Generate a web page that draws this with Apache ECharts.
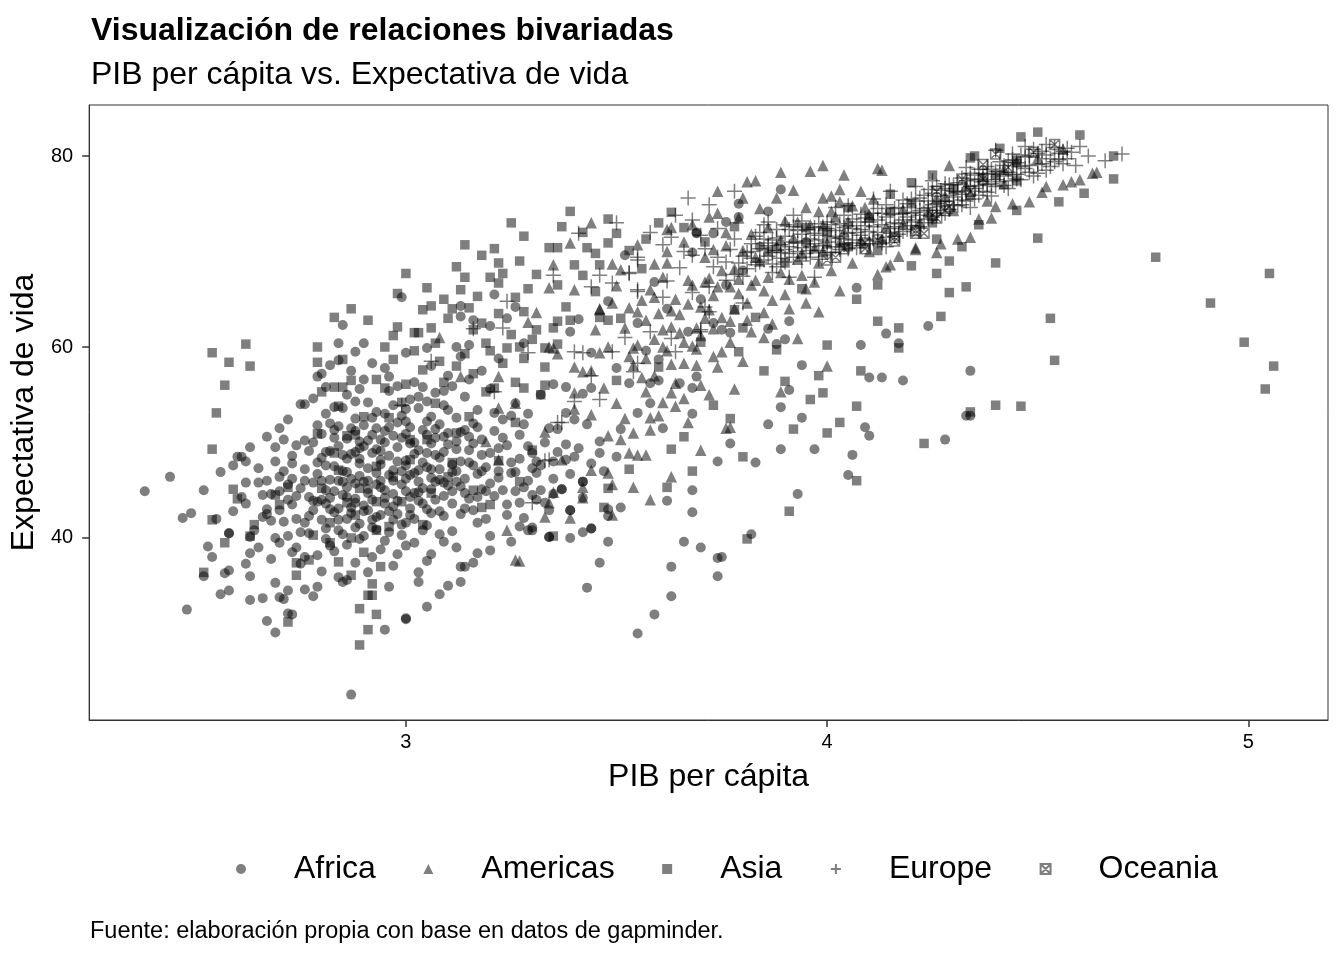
<!DOCTYPE html>
<html>
<head>
<meta charset="utf-8">
<script src="https://cdn.jsdelivr.net/npm/echarts@6/dist/echarts.min.js"></script>
<style>
html, body { margin: 0; padding: 0; background: #fff; }
#chart { width: 1344px; height: 960px; }
</style>
</head>
<body>
<div id="chart"></div>
<script>
// ejes: log10(PIB per cápita) vs expectativa de vida
var xTicks = [3, 4, 5];
var yTicks = [40, 60, 80];
var continents = ["Africa", "Americas", "Asia", "Europe", "Oceania"];

var africa = [
	[2.38,44.9],[2.44,46.4],[2.48,32.5],[2.52,45.0],[2.47,42.1],[2.49,42.6],[2.55,42.0],[2.53,39.1],[2.54,38.0],[2.52,36.0],
	[2.56,34.1],[2.58,34.5],[2.57,36.3],[2.58,36.6],[2.58,40.5],[2.59,42.8],[2.61,44.3],[2.62,43.6],[2.62,45.8],[2.61,48.5],
	[2.62,48.0],[2.63,49.5],[2.65,47.3],[2.63,40.1],[2.63,38.4],[2.62,37.3],[2.63,36.0],[2.63,33.5],[2.66,33.7],[2.67,31.3],
	[2.69,30.1],[2.69,40.0],[2.70,39.5],[2.69,35.3],[2.70,33.8],[2.71,33.6],[2.72,34.5],[2.72,32.1],[2.73,32.0],[2.67,46.0],
	[2.66,44.5],[2.67,43.0],[2.69,48.0],[2.69,49.5],[2.71,50.3],[2.72,52.4],[2.76,54.0],[2.78,54.6],[2.79,56.9],[2.82,58.1],
	[2.81,55.8],[2.84,60.4],[2.85,62.3],[2.90,60.4],[2.88,59.5],[2.99,65.2],[2.87,23.6],[2.95,30.4],[3.00,31.5],[2.73,38.5],
	[2.76,38.0],[2.75,37.3],[2.76,34.6],[2.78,33.9],[2.79,34.9],[2.84,35.9],[2.86,35.6],[2.85,35.4],[2.88,37.4],[2.91,36.4],
	[2.80,57.2],[2.84,58.6],[2.90,56.6],[2.95,57.8],[3.00,59.4],[3.02,56.3],[3.06,58.0],[3.10,57.0],[3.13,59.0],[3.18,57.5],
	[3.22,58.8],[3.05,59.9],[2.98,55.9],
	[2.75,54.0],[2.81,53.0],[2.86,55.0],[2.88,52.5],[2.91,54.2],[2.93,53.2],[2.96,55.4],[2.99,52.8],[3.01,54.5],[3.03,53.6],
	[3.05,52.2],[3.07,55.2],[3.09,53.9],[3.12,52.6],[3.14,54.8],[3.17,53.4],[3.20,55.6],[3.23,52.4],[3.26,54.1],[3.29,53.0],
	[3.32,55.0],[2.97,53.9],[3.04,55.8],
	[2.60,48.5],[2.67,50.6],[2.70,51.5],[2.73,48.6],[2.76,50.2],[2.79,51.8],[2.81,49.0],[2.83,50.5],[2.86,48.3],[2.88,51.2],
	[2.90,49.6],[2.92,50.8],[2.94,48.2],[2.96,51.6],[2.98,49.5],[3.00,50.9],[3.02,48.8],[3.04,51.3],[3.06,49.9],[3.08,48.4],
	[3.10,51.0],[3.12,49.3],[3.15,50.6],[3.18,48.7],[3.21,51.2],[3.24,49.7],[3.27,50.8],[3.30,48.9],[3.34,51.5],[3.38,49.8],
	[2.89,50.1],[2.95,50.0],[3.01,49.9],[2.84,51.7],[3.07,50.5],
	[2.56,46.9],[2.59,47.6],[2.65,45.8],[2.68,44.6],[2.70,46.4],[2.73,47.8],[2.75,45.2],[2.77,44.3],[2.79,46.7],[2.81,45.0],
	[2.83,47.5],[2.85,44.5],[2.87,46.2],[2.89,47.8],[2.91,45.1],[2.93,46.8],[2.95,44.2],[2.97,47.1],[2.99,45.6],[3.01,46.6],
	[3.03,44.8],[3.05,47.4],[3.07,45.9],[3.09,44.4],[3.11,46.9],[3.13,45.4],[3.16,47.6],[3.19,44.9],[3.22,46.3],[3.25,47.9],
	[3.28,45.3],[3.31,46.8],[3.35,44.6],[3.37,45.1],[2.88,45.7],[2.94,46.0],[3.00,44.9],[2.84,46.0],[2.80,44.0],[3.42,45.9],
	[3.47,47.0],
	[2.64,40.8],[2.67,42.5],[2.71,41.7],[2.73,43.5],[2.75,40.6],[2.77,42.3],[2.79,43.8],[2.81,41.0],[2.83,42.7],[2.85,40.4],
	[2.87,43.2],[2.89,41.5],[2.91,42.9],[2.93,40.9],[2.95,43.6],[2.97,41.9],[2.99,40.3],[3.01,42.4],[3.03,43.9],[3.05,41.3],
	[3.08,42.8],[3.11,40.7],[3.14,43.1],[3.17,41.6],[3.20,40.2],[3.24,42.4],[3.27,43.7],[3.30,41.1],[3.34,42.9],[3.39,42.9],
	[3.44,41.0],[3.48,43.0],[2.86,42.0],[2.92,41.9],[2.90,40.2],[2.58,40.5],
	[2.80,36.5],[2.94,38.8],[2.97,37.1],[3.00,39.2],[3.03,36.4],[3.06,38.3],[3.09,39.6],[3.13,37.0],[3.16,37.4],[3.17,38.4],
	[3.20,38.7],[3.25,39.6],[3.29,40.8],[3.34,40.1],[3.03,35.4],[3.10,35.0],[3.13,35.4],[3.00,31.6],[3.05,32.8],[3.08,34.1],
	[3.14,37.0],[2.82,39.2],[2.96,34.9],
	[2.76,47.2],[2.77,49.1],[2.78,45.8],[2.78,42.9],[2.80,48.4],[2.80,50.9],[2.81,43.6],[2.82,46.1],[2.82,52.0],[2.83,44.9],
	[2.84,49.6],[2.84,41.9],[2.85,47.0],[2.85,53.6],[2.86,45.3],[2.86,50.4],[2.87,42.6],[2.87,48.8],[2.88,44.1],[2.88,54.3],
	[2.89,46.5],[2.89,49.4],[2.90,43.4],[2.90,51.8],[2.91,47.3],[2.91,44.7],[2.92,52.6],[2.92,48.9],[2.93,45.6],[2.93,42.2],
	[2.94,50.3],[2.94,47.7],[2.95,53.0],[2.95,45.0],[2.96,42.8],[2.96,48.6],[2.97,46.0],[2.97,50.7],[2.98,43.9],[2.98,52.1],
	[2.99,47.0],[2.99,41.4],[3.00,48.1],[3.00,53.5],[3.01,44.3],[3.01,51.6],[3.02,46.8],[3.02,42.0],[3.03,49.2],[3.03,54.8],
	[3.04,45.2],[3.04,47.9],[3.05,43.0],[3.05,50.8],[3.06,46.3],[3.06,52.7],[3.07,44.0],[3.07,48.7],[3.08,51.9],[3.08,46.1],
	[3.09,42.3],[3.09,49.0],[3.10,45.5],[3.10,53.4],[3.11,47.7],[3.11,43.6],[3.12,50.1],[3.12,45.9],[3.13,42.5],[3.13,48.0],
	[3.14,51.3],[3.14,46.2],[3.15,44.1],[3.15,49.2],[3.16,42.9],[3.16,52.0],[3.17,46.7],[3.18,45.1],[3.18,50.3],[3.19,47.4],
	[3.19,42.0],[3.20,48.9],[3.21,44.4],[3.21,53.1],[3.22,47.0],[3.23,45.0],[3.23,50.5],[3.24,43.5],[3.25,46.8],[3.25,52.8],
	[3.26,44.9],[3.27,48.3],[3.28,42.1],[3.29,49.6],[3.29,46.0],[3.31,44.0],[3.32,47.6],[3.33,50.0],[3.35,46.2],[3.36,49.0],
	[2.72,44.0],[2.73,46.2],[2.74,49.7],[2.74,42.0],[2.71,47.0],[2.70,44.9],[2.68,41.8],[2.66,42.2],[2.65,39.0],[2.68,37.8],
	[2.72,40.2],[2.74,39.0],[2.77,40.5],[2.79,38.2],[2.81,39.9],[2.83,38.6],[2.86,39.3],[2.89,39.9],[2.92,38.0],[2.95,39.7],
	[2.98,38.3],[3.02,39.5],[3.05,37.6],[3.08,40.4],[3.12,39.0],[2.96,56.9],[2.92,58.3],[2.87,57.5],[3.09,55.4],[3.15,56.6],
	[2.80,46.0],[2.81,47.6],[2.82,44.2],[2.83,51.3],[2.84,43.1],[2.85,48.7],[2.86,46.9],[2.87,51.5],[2.88,43.7],[2.89,48.3],
	[2.90,45.9],[2.91,50.2],[2.92,44.0],[2.93,49.3],[2.94,45.3],[2.95,51.2],[2.96,46.6],[2.97,43.3],[2.98,48.0],[2.99,50.5],
	[3.00,46.2],[3.01,43.1],[3.02,50.0],[3.03,47.1],[3.04,43.6],[3.05,48.9],[3.06,45.1],[3.07,51.4],[3.08,47.2],[3.09,45.8],
	[3.10,49.8],[3.11,44.9],[3.12,47.0],[3.13,51.1],[3.14,44.7],[3.15,47.9],[3.16,49.9],[3.17,44.3],[3.18,47.0],[3.20,45.7],
	[2.78,50.0],[2.79,47.9],[2.82,49.1],[2.85,45.9],[2.88,49.0],[2.91,46.0],[2.94,49.1],[2.97,44.6],[3.00,47.6],[3.03,45.9],
	[3.06,47.2],[3.09,50.6],[2.83,53.7],[2.89,55.6],[2.93,51.5],[3.00,52.2],[3.05,54.3],[3.11,55.9],[3.17,51.6],[3.22,49.4],
	[2.70,42.9],[2.72,45.6],[2.74,44.4],[2.76,41.6],[2.76,46.0],[2.78,43.9],[2.80,41.9],[2.82,43.0],[2.84,40.8],[2.86,44.3],
	[2.88,41.1],[2.90,42.8],[2.92,41.1],[2.94,42.4],[2.96,40.6],[2.98,42.5],[3.00,41.6],[3.02,44.7],[3.04,40.8],[3.06,42.6],
	[3.27,41.2],[3.26,46.9],[3.28,51.9],[3.32,45.0],[3.35,48.0],[3.33,43.7],[3.36,51.4],[3.39,46.7],[3.41,49.4],[3.44,47.8],
	[3.21,65.5],[3.13,64.3],[3.13,63.2],[3.16,62.8],[3.20,62.2],[3.24,63.0],[3.26,64.2],[3.28,60.4],[3.12,60.0],[3.15,60.2],
	[3.39,61.6],[3.41,62.9],[3.44,59.4],[3.35,56.1],[3.38,55.8],[3.44,55.7],[3.42,55.1],[3.38,53.1],[3.40,52.4],[3.43,51.9],
	[3.46,50.1],[3.46,48.9],[3.50,48.5],[3.55,53.1],[3.51,51.4],[3.58,54.1],[3.61,51.5],[3.68,53.0],[3.58,56.2],[3.60,56.5],
	[3.50,57.8],[3.53,56.2],[3.57,59.6],[3.60,58.7],[3.65,56.2],[3.68,55.7],[3.69,56.9],[3.67,61.6],[3.68,69.9],[3.69,72.0],
	[3.52,69.6],[3.59,66.8],[3.73,62.5],[3.75,61.8],[3.77,61.5],[3.42,45.9],[3.42,44.2],[3.37,45.1],[3.39,42.9],[3.39,40.0],
	[3.44,41.0],[3.42,40.6],[3.48,39.6],[3.48,42.3],[3.51,43.2],[3.38,48.2],[3.40,48.5],[3.30,47.3],[3.31,48.0],[3.30,44.5],
	[3.30,40.8],[3.34,40.1],
	[3.55,30.0],[3.59,32.0],[3.63,33.9],[3.43,34.8],[3.46,37.4],[3.63,37.0],[3.66,39.6],[3.70,39.0],[3.74,37.9],[3.74,36.0],
	[3.68,42.7],[3.68,45.0],[3.62,43.9],[3.74,48.0],[3.75,38.0],[3.82,40.4],[3.93,44.6],[4.05,46.6],[4.06,48.7],[3.83,47.9],
	[3.77,49.9],[3.89,49.3],[3.97,49.3],[4.28,50.3],[4.33,52.8],[4.34,52.8],[4.09,51.6],[4.10,50.7],[3.86,51.9],[3.94,52.6],
	[3.89,53.7],[3.91,55.5],[4.10,56.8],[4.13,56.8],[4.18,56.5],[4.34,57.5],[3.94,58.1],[4.08,60.2],[4.14,61.4],[4.17,60.4],
	[4.24,62.2],[3.91,62.7],[3.86,61.9],[3.90,60.8],[3.88,60.3],[4.07,66.2],[3.89,76.5],
	[3.79,75.0],[3.79,73.6],[3.76,73.1],[3.73,71.9],[3.69,71.9],[3.76,66.5],[3.80,68.0],[3.84,70.5],[3.70,65.0],[3.86,74.2],
	[3.95,71.0],[3.62,64.0],[3.55,62.5],[3.48,64.8]
];

var americas = [
	[3.27,37.6],[3.26,37.7],[3.24,40.8],[3.33,42.2],[3.39,42.1],[3.35,44.8],[3.34,43.7],[3.42,45.3],[3.42,44.2],[3.44,47.1],
	[3.48,46.8],[3.49,45.6],[3.54,45.3],[3.58,44.0],[3.49,42.4],[3.37,48.2],[3.22,48.2],[3.19,50.1],[3.22,53.6],[3.26,54.1],
	[3.33,51.1],[3.13,56.9],[3.22,56.9],[3.08,61.0],[3.29,62.6],[3.31,63.6],[3.36,59.3],[3.40,57.9],[3.42,57.4],[3.44,57.5],
	[3.40,55.2],[3.40,53.5],[3.34,60.0],[3.35,59.9],[3.35,68.6],[3.34,66.2],[3.40,66.0],[3.44,73.0],[3.39,70.9],[3.46,64.0],
	[3.49,64.6],[3.49,68.7],[3.59,68.7],[3.51,50.3],[3.53,48.9],[3.55,48.7],[3.57,48.7],[3.54,51.0],[3.58,52.6],[3.58,51.3],
	[3.63,46.4],[3.70,49.2],[3.67,52.1],[3.76,51.5],[3.55,60.2],[3.53,59.0],[3.54,58.1],[3.50,54.1],[3.63,55.2],[3.64,56.2],
	[3.61,54.2],[3.66,58.3],[3.69,58.1],[3.73,59.0],[3.75,59.5],[3.74,57.9],[3.70,56.0],[3.61,61.8],[3.63,62.1],[3.54,59.9],
	[3.48,60.0],[3.46,59.4],[3.53,64.1],[3.56,64.9],[3.46,63.9],[3.51,68.1],[3.62,68.8],[3.66,71.0],[3.55,70.7],[3.62,72.3],
	[3.63,72.5],[3.71,69.4],[3.73,70.2],[3.74,66.3],[3.70,64.2],[3.72,63.9],[3.77,66.3],[3.72,73.6],[3.74,76.3],[3.81,77.3],
	[3.83,77.4],[3.89,78.3],[3.96,78.4],[3.99,79.0],[4.04,78.0],[4.12,78.7],[4.03,76.5],[4.08,76.3],[4.11,75.5],[4.01,75.8],
	[3.99,75.6],[4.03,75.2],[3.95,74.6],[4.03,65.9],[3.98,63.7],[4.12,67.6],[4.15,68.6],[3.93,60.9],[4.21,70.4],[4.29,79.0],
	[4.26,69.9],[4.34,71.5],[4.39,73.5],[4.48,75.2],[4.51,76.2],[4.56,77.0],[4.60,77.5],[4.64,78.3],[4.13,78.5],[4.00,58.0],
	[3.80,58.5],[3.78,55.6],[3.89,55.3],[3.77,51.6],[3.82,61.6],[3.85,63.6],
	[3.78,68.2],[3.80,70.1],[3.82,71.8],[3.84,69.0],[3.86,72.5],[3.88,70.6],[3.90,73.2],[3.92,71.4],[3.94,69.8],[3.96,72.8],
	[3.98,74.2],[4.00,70.9],[4.02,73.6],[4.04,72.1],[4.06,74.8],[4.08,71.2],[4.10,73.9],[4.14,72.6],[4.18,74.4],[4.22,73.1],
	[4.26,75.6],[4.30,74.3],[4.34,76.0],[4.38,75.3],[4.42,77.1],[3.76,70.6],[3.72,67.2],[3.68,66.5],[3.64,65.0],[3.60,63.5],
	[3.58,66.0],[3.70,61.2],[3.66,60.5],[3.78,64.0],[3.82,66.5],[3.86,67.3],[3.90,65.5],[3.94,67.5],[3.98,68.8],[3.84,74.5],
	[3.88,75.6],[3.92,76.4],[3.79,73.5],[3.76,72.0],
	[3.57,62.8],[3.59,60.8],[3.61,67.3],[3.63,58.2],[3.65,63.4],[3.67,67.0],[3.69,62.0],[3.71,66.8],[3.73,61.9],[3.75,68.0],
	[3.77,62.7],[3.79,67.1],[3.81,64.6],[3.83,69.4],[3.85,65.9],[3.87,62.4],[3.89,71.2],[3.91,67.1],[3.93,73.1],[3.95,66.1],
	[3.97,70.4],[3.99,72.7],[4.01,74.2],[4.05,73.2],[4.09,74.6],[3.59,57.0],[3.62,59.6],[3.68,60.1],[3.64,53.8],[3.57,55.3],
	[3.52,62.0],[3.55,63.7],[3.57,58.8],[3.59,65.2],[3.61,60.0],[3.63,63.8],[3.65,61.5],[3.67,64.5],[3.69,59.8],[3.71,63.0],
	[3.73,65.4],[3.75,63.1],[3.77,60.5],[3.79,65.6],[3.81,62.8],[3.83,67.0],[3.85,61.0],[3.87,64.9],[3.89,67.8],[3.91,64.0],
	[3.93,69.2],[3.95,64.6],[3.97,66.8],[3.99,70.0],[4.01,68.0],[4.03,71.0],[3.62,70.0],[3.68,72.8],[3.74,74.0],[3.80,75.6],
	[3.45,61.8],[3.50,66.4],[3.47,55.7],[3.52,52.5],[3.56,56.8],[3.60,52.8],[3.66,54.6],[3.72,55.0],[3.48,50.7],[3.44,52.9],
	[4.06,68.8],[4.10,70.0],[4.13,71.3],[4.18,72.9],[4.24,74.2],[4.28,75.8],[4.33,76.9],[4.37,77.9],[4.42,78.6],[4.45,79.4],
	[4.50,79.8],[4.56,80.7],[4.14,68.4],[4.17,69.5],[4.21,70.2],[4.27,70.8],[4.31,71.3],[4.36,73.4],[4.40,74.7],[4.44,75.0],
	[4.52,76.8],[4.58,77.3],[4.63,78.2]
];

var asia = [
	[2.62,60.3],[2.54,59.4],[2.58,58.4],[2.63,58.0],[2.57,56.0],[2.55,53.1],[2.54,49.3],[2.59,45.1],[2.60,44.1],[2.64,41.4],
	[2.63,40.2],[2.57,39.5],[2.54,41.9],[2.52,36.4],[2.87,64.0],[2.83,63.1],[2.91,62.8],[2.98,62.1],[2.98,65.6],[2.79,60.0],
	[2.79,58.4],[2.85,58.7],[2.87,56.5],[2.83,55.8],[2.85,55.8],[2.84,53.8],[2.93,56.6],[2.95,55.7],[3.00,56.1],[3.02,61.5],
	[2.79,50.9],[2.86,50.7],[2.88,50.8],[2.90,52.7],[2.69,44.5],[2.70,43.5],[2.72,45.3],[2.80,45.2],[2.82,41.6],[2.82,39.5],
	[2.77,37.7],[2.74,37.4],[2.74,36.1],[2.72,31.2],[2.84,37.5],[2.87,36.1],[2.92,35.2],[2.91,34.0],[2.92,34.0],[2.89,32.6],
	[2.93,32.0],[2.91,30.4],[2.89,28.8],[2.94,37.0],[2.90,38.5],[2.86,43.7],[2.93,43.8],[2.99,43.8],[2.93,40.8],[3.01,48.2],
	[3.01,50.3],[2.84,47.1],
	[3.25,73.0],[3.14,70.7],[3.22,68.8],[3.27,69.0],[3.00,67.7],[3.14,67.3],[3.20,67.3],[3.23,67.7],[3.22,66.7],[3.13,66.0],
	[3.09,65.0],[3.06,64.3],[3.04,63.9],[3.15,64.1],[3.26,65.2],[3.28,63.7],[3.03,61.5],[3.06,62.0],[3.18,62.5],[3.16,61.8],
	[3.25,61.3],[3.31,61.8],[3.30,60.8],[3.19,60.4],[3.07,60.4],[3.08,58.5],[3.04,57.6],[3.23,58.3],[3.24,59.9],[3.33,59.9],
	[3.26,56.3],[3.28,55.7],[3.33,56.0],[3.32,55.0],[3.19,55.3],[3.21,55.7],[3.34,70.4],[3.36,70.4],[3.43,70.4],[3.48,70.9],
	[3.50,71.9],[3.40,68.6],[3.42,67.5],[3.46,68.6],[3.36,66.5],[3.36,62.7],[3.39,62.8],[3.36,60.3],[3.33,57.9],[3.46,63.1],
	[3.48,62.8],[3.51,63.0],[3.50,56.5],[3.26,52.1],[3.30,49.2],[3.27,45.9],[3.35,40.2],[3.53,47.2],[3.47,43.2],[3.48,45.2],
	[3.63,49.3],[3.68,47.0],[3.62,45.3],[3.11,47.9],[3.07,54.1],[3.15,52.7],[3.20,43.5],[3.18,43.2],[3.39,74.2],[3.48,73.4],
	[3.63,74.1],[3.66,72.5],[3.94,66.1],[3.79,59.5],[3.78,63.9],[3.83,63.1],[3.80,62.0],
	[2.95,60.0],[2.97,58.7],[3.10,63.0],[3.05,66.2],[3.12,58.0],[3.16,57.2],[3.20,59.6],[3.28,58.8],[3.35,62.0],[3.12,68.4],
	[2.93,47.5],[2.97,46.4],[2.83,48.9],[2.78,40.3],[2.88,42.4],[3.04,41.4],[3.16,45.0],[3.22,48.1],[3.45,65.8],[3.56,68.2],
	[3.21,70.3],[3.28,71.6],[3.31,67.6],[3.29,66.1],[3.37,72.6],[3.42,72.0],[3.45,69.8],[3.53,70.1],[3.57,71.3],[3.60,73.0],
	[3.18,69.6],[3.11,64.0],[3.17,65.3],[3.02,59.6],[2.97,61.2],[3.09,56.3],[3.14,59.3],[3.22,63.5],[3.27,60.0],[3.38,64.2],
	[2.96,52.6],[2.99,54.2],[3.05,50.3],[3.10,46.4],[2.89,45.2],[2.87,40.0],[2.96,41.2],[3.06,44.7],[3.12,51.0],[2.80,55.3],
	[3.71,71.0],[3.78,72.6],[3.86,70.0],[3.95,72.5],[4.05,74.6],[4.15,74.2],[4.26,71.3],[4.36,72.8],[4.25,73.0],[4.12,70.1],
	[3.70,60.5],[3.60,57.9],[3.85,57.5],[3.73,53.9],[3.66,50.6],[3.90,56.4],[4.00,60.2],[4.12,66.5],[4.20,68.5],[4.45,77.4],
	[4.29,69.0],[4.40,68.8],[4.26,67.7],[4.29,65.7],[4.33,66.3],[4.27,63.2],[4.07,65.0],[4.12,62.7],[4.17,62.0],[4.17,59.9],
	[4.53,63.0],[4.54,58.6],[4.08,57.5],[3.98,57.0],[3.99,55.2],[3.96,54.5],[3.88,59.7],[4.07,53.8],[4.03,52.1],[4.00,51.0],
	[3.92,51.4],[3.77,52.5],[4.40,53.9],[4.23,49.9],[3.80,48.5],[4.07,46.0],[3.91,42.8],[3.81,39.9],[4.78,69.4],[5.05,67.7],
	[4.91,64.6],[4.99,60.5],[5.06,58.0],[5.04,55.6],[4.68,77.6],[4.68,80.0],[4.61,76.1],[4.50,82.5],[4.46,82.0],[4.60,82.2],
	[4.55,75.2],[4.34,79.8],[4.41,80.8],[4.50,71.4],[4.45,74.3],[4.32,70.5],[4.46,53.8],[4.34,53.2],
	[4.00,72.0],[4.10,73.5],[4.20,75.0],[4.30,76.5],[4.40,78.0],[4.45,79.5],[4.20,77.2],[4.05,70.5],[3.90,68.8],[4.15,76.0],
	[4.25,78.0],[4.35,80.0]
];

var europe = [
	[3.41,71.9],[3.50,73.0],[3.58,72.0],[3.46,67.5],[3.44,66.3],[3.49,66.7],[3.53,67.7],[3.55,69.1],[3.55,66.0],[3.61,65.2],
	[3.61,70.7],[3.63,71.5],[3.68,65.7],[3.71,64.2],[3.70,61.8],[3.58,61.6],[3.63,60.9],[3.64,59.5],[3.55,58.3],[3.54,57.4],
	[3.46,54.5],[3.42,59.4],[3.40,59.5],[3.29,59.4],[3.23,62.0],[3.36,52.1],[3.34,48.2],[3.30,43.7],[3.21,55.3],[2.99,53.9],
	[3.72,63.7],[3.67,75.6],[3.78,76.3],[4.15,76.3],[4.21,76.8],[3.68,73.3],[3.55,69.4],[3.53,67.8],[3.55,65.8],[3.80,64.6],
	[3.70,61.6],[3.91,67.3],[3.87,67.8],[3.97,67.3],[3.06,58.5],[3.16,61.9],[3.24,64.8],[3.35,67.5],[3.33,48.1],[3.37,52.1],
	[3.40,54.3],[3.44,57.0],[3.49,59.5],[3.52,61.0],[4.70,80.2],[4.66,79.5],[4.62,80.0],[4.59,79.0],[4.57,80.8],[4.55,79.6],
	[3.76,68.9],[3.77,70.2],[3.78,67.6],[3.80,69.5],[3.81,68.2],[3.82,70.8],[3.83,71.6],[3.85,69.1],[3.86,70.6],[3.87,68.7],
	[3.88,71.4],[3.89,69.9],[3.90,70.2],[3.91,72.3],[3.92,69.4],[3.93,70.9],[3.94,71.8],[3.95,69.8],[3.96,70.5],[3.97,71.9],
	[3.98,70.1],[3.99,72.6],[4.00,71.0],[4.01,69.9],[4.02,71.6],[4.03,72.9],[4.04,70.7],[4.05,71.9],[4.06,73.4],[4.07,70.4],
	[4.08,72.3],[4.09,71.2],[4.10,73.1],[4.11,74.0],[4.12,72.0],[4.13,70.9],[4.14,73.6],[4.15,72.4],[4.16,74.5],[4.17,71.8],
	[4.18,73.3],[4.19,75.0],[4.20,72.7],[4.21,74.1],[4.22,75.6],[4.23,73.0],[4.24,74.6],[4.25,76.1],[4.26,73.8],[4.27,75.2],
	[4.28,76.6],[4.29,74.4],[4.30,75.7],[4.31,77.2],[4.32,74.9],[4.33,76.3],[4.34,77.6],[4.35,75.5],[4.36,76.9],[4.37,78.2],
	[4.38,77.0],[4.39,75.8],[4.40,78.4],[4.41,77.3],[4.42,79.0],[4.43,76.6],[4.44,78.0],[4.45,79.3],[4.46,77.5],[4.47,78.7],
	[4.48,80.0],[4.49,77.9],[4.50,79.1],[4.51,80.5],[4.52,78.5],[4.53,79.7],[4.54,80.9],[4.56,79.2],[4.58,80.4],
	[4.00,72.4],[4.02,70.5],[4.04,73.8],[4.06,71.2],[4.08,73.9],[4.10,70.8],[4.12,73.3],[4.14,71.5],[4.16,73.0],[4.18,75.4],
	[4.20,74.0],[4.22,72.6],[4.24,75.3],[4.26,76.8],[4.28,74.0],[4.30,77.0],[4.32,76.0],[4.34,74.6],[4.36,78.6],[4.38,76.2],
	[3.94,73.2],[3.96,71.3],[3.98,69.2],[3.92,71.0],[3.88,70.1],[3.84,72.0],[3.86,73.1],[3.90,68.9],[4.05,74.8],[4.11,75.5],
	[4.25,77.4],[4.33,78.8],[4.44,80.2],[4.40,80.6],[4.47,81.0],
	[3.62,66.9],[3.65,68.3],[3.68,69.6],[3.71,70.3],[3.73,68.4],[3.66,70.0],[3.70,71.7],[3.74,72.4],[3.64,73.8],[3.72,74.9],
	[3.79,68.8],[3.81,69.9],[3.83,68.6],[3.84,70.3],[3.86,69.5],[3.87,71.2],[3.89,70.7],[3.90,71.6],[3.91,69.8],[3.93,72.2],
	[3.94,70.4],[3.95,71.1],[3.96,69.4],[3.97,70.8],[3.98,71.7],[3.99,70.6],[4.00,73.1],[4.01,71.4],[4.02,72.2],[4.03,70.2],
	[4.04,71.3],[4.05,72.7],[4.06,70.9],[4.07,72.0],[4.08,70.6],[4.09,73.5],[4.10,72.1],[4.11,71.3],[4.12,74.5],[4.13,72.8],
	[4.14,70.5],[4.15,73.9],[4.16,71.6],[4.17,72.9],[4.18,74.0],[4.19,72.3],[4.20,75.5],[4.21,73.3],[4.22,74.3],[4.23,75.9],
	[4.24,73.4],[4.25,74.9],[4.26,75.0],[4.27,76.4],[4.28,75.3],[4.29,77.0],[4.30,74.9],[4.31,76.2],[4.32,77.7],[4.33,75.3],
	[4.34,76.8],[4.35,78.0],[4.36,75.9],[4.37,77.3],[4.38,78.9],[4.39,77.1],[4.40,76.8],[4.41,79.4],[4.42,77.9],[4.43,78.3],
	[4.44,79.6],[4.45,78.1],[4.46,80.1],[4.48,79.0],[4.49,80.7],[4.50,78.2],[4.52,80.1],[4.53,78.9],[4.55,80.3],[4.57,79.7],
	[3.72,66.3],[3.74,69.4],[3.76,67.0],[3.78,71.3],[3.80,67.4],[3.82,69.3],[3.85,72.8],[3.88,68.4],[3.92,73.8],[4.02,74.6],
	[3.86,70.9],[3.88,72.3],[3.89,69.3],[3.91,70.5],[3.92,72.6],[3.93,70.0],[3.95,72.3],[3.96,70.1],[3.97,72.5],[3.99,71.2],
	[4.00,69.9],[4.01,72.8],[4.03,71.4],[4.04,72.5],[4.05,70.3],[4.07,73.1],[4.08,71.7],[4.09,72.7],[4.11,72.6],[4.12,71.1],
	[4.13,74.0],[4.15,71.9],[4.16,72.6],[4.17,74.6],[4.19,73.6],[4.20,73.1],[4.21,75.3],[4.22,73.8],[4.23,74.5],[4.25,73.6],
	[4.26,74.3],[4.27,74.7],[4.28,77.1],[4.29,75.9],[4.30,76.3],[4.31,74.8],[4.32,75.4],[4.33,77.4],[4.35,76.6],[4.36,77.5],
	[4.37,76.3],[4.38,78.1],[4.39,78.6],[4.40,77.5],[4.41,78.1],[4.42,76.9],[4.43,79.5],[4.45,77.6],[4.46,78.9],[4.47,79.9],
	[4.48,78.3],[4.50,80.3],[4.51,79.2],[4.54,79.4],[4.56,80.5],[3.82,70.0],[3.84,68.9],[3.85,71.3],[3.87,69.9],[3.90,72.8],
	[3.94,69.0],[3.98,72.9],[4.06,72.4],[4.14,74.9],[4.18,72.1],[4.24,76.5],[4.34,78.2],[4.44,77.4],[4.52,81.2],[4.60,81.0]
];

var oceania = [
	[4.00,69.1],[4.04,70.3],[4.09,70.9],[4.16,71.1],[4.23,71.9],[4.26,73.5],[4.29,74.7],[4.34,76.3],[4.37,77.6],[4.43,78.8],
	[4.49,80.4],[4.54,81.2],[4.02,69.4],[4.09,70.3],[4.12,71.2],[4.16,71.5],[4.21,71.9],[4.21,72.2],[4.25,73.8],[4.28,74.3],
	[4.26,76.3],[4.32,77.6],[4.37,79.1],[4.40,80.2]
];

var chart = echarts.init(document.getElementById('chart'));

var font = "'Liberation Sans', Arial, sans-serif";

function serie(name, data, symbol, size, hollow) {
	var st = hollow
		? { color: 'rgba(0,0,0,0)', borderColor: '#000', borderWidth: 1.5, opacity: 0.5 }
		: { color: '#000', opacity: 0.5 };
	return {
		name: name,
		type: 'scatter',
		data: data,
		symbol: symbol,
		symbolSize: size,
		itemStyle: st,
		emphasis: { disabled: true },
		animation: false
	};
}

var option = {
	backgroundColor: '#fff',
	textStyle: { fontFamily: font, color: '#000' },
	title: {
		text: 'Visualización de relaciones bivariadas',
		subtext: 'PIB per cápita vs. Expectativa de vida',
		left: 86,
		top: 10,
		itemGap: 12,
		textStyle: { fontFamily: font, fontSize: 32, fontWeight: 'bold', color: '#000' },
		subtextStyle: { fontFamily: font, fontSize: 32, color: '#000' }
	},
	grid: {
		left: 89, right: 16, top: 105, bottom: 240,
		show: true, borderColor: '#333', borderWidth: 1, backgroundColor: '#fff'
	},
	legend: {
		data: continents,
		left: 231,
		top: 848,
		itemWidth: 10,
		itemHeight: 10,
		itemGap: 47.5,
		textStyle: { fontFamily: font, fontSize: 32, color: '#000', padding: [0, 0, 0, 43] }
	},
	xAxis: {
		type: 'value',
		min: 2.248,
		max: 5.189,
		name: 'PIB per cápita',
		nameLocation: 'middle',
		nameGap: 41,
		nameTextStyle: { fontFamily: font, fontSize: 32, color: '#000' },
		splitLine: { show: false },
		axisLine: { show: true, lineStyle: { color: '#333', width: 1 } },
		axisTick: { show: true, length: 7, customValues: xTicks, lineStyle: { color: '#333', width: 1.5 } },
		axisLabel: { customValues: xTicks, margin: 12, fontSize: 20, color: '#000', fontFamily: font }
	},
	yAxis: {
		type: 'value',
		min: 20.94,
		max: 85.34,
		name: 'Expectativa de vida',
		nameLocation: 'middle',
		nameGap: 44,
		nameTextStyle: { fontFamily: font, fontSize: 32, color: '#000' },
		splitLine: { show: false },
		axisLine: { show: true, lineStyle: { color: '#333', width: 1 } },
		axisTick: { show: true, length: 7, customValues: yTicks, lineStyle: { color: '#333', width: 1.5 } },
		axisLabel: { customValues: yTicks, margin: 16, fontSize: 20, color: '#000', fontFamily: font }
	},
	graphic: [{
		type: 'text',
		left: 90,
		top: 920,
		style: {
			text: 'Fuente: elaboración propia con base en datos de gapminder.',
			font: '23.5px ' + font,
			fill: '#000'
		}
	}],
	series: [
		serie('Africa', africa, 'circle', 10, false),
		serie('Americas', americas, 'triangle', 11.5, false),
		serie('Asia', asia, 'rect', 9.5, false),
		serie('Europe', europe, 'path://M0,5L10,5M5,0L5,10', 15, true),
		serie('Oceania', oceania, 'path://M0,0L10,0L10,10L0,10ZM0,0L10,10M10,0L0,10', 10, true)
	]
};

chart.setOption(option);
</script>
</body>
</html>
